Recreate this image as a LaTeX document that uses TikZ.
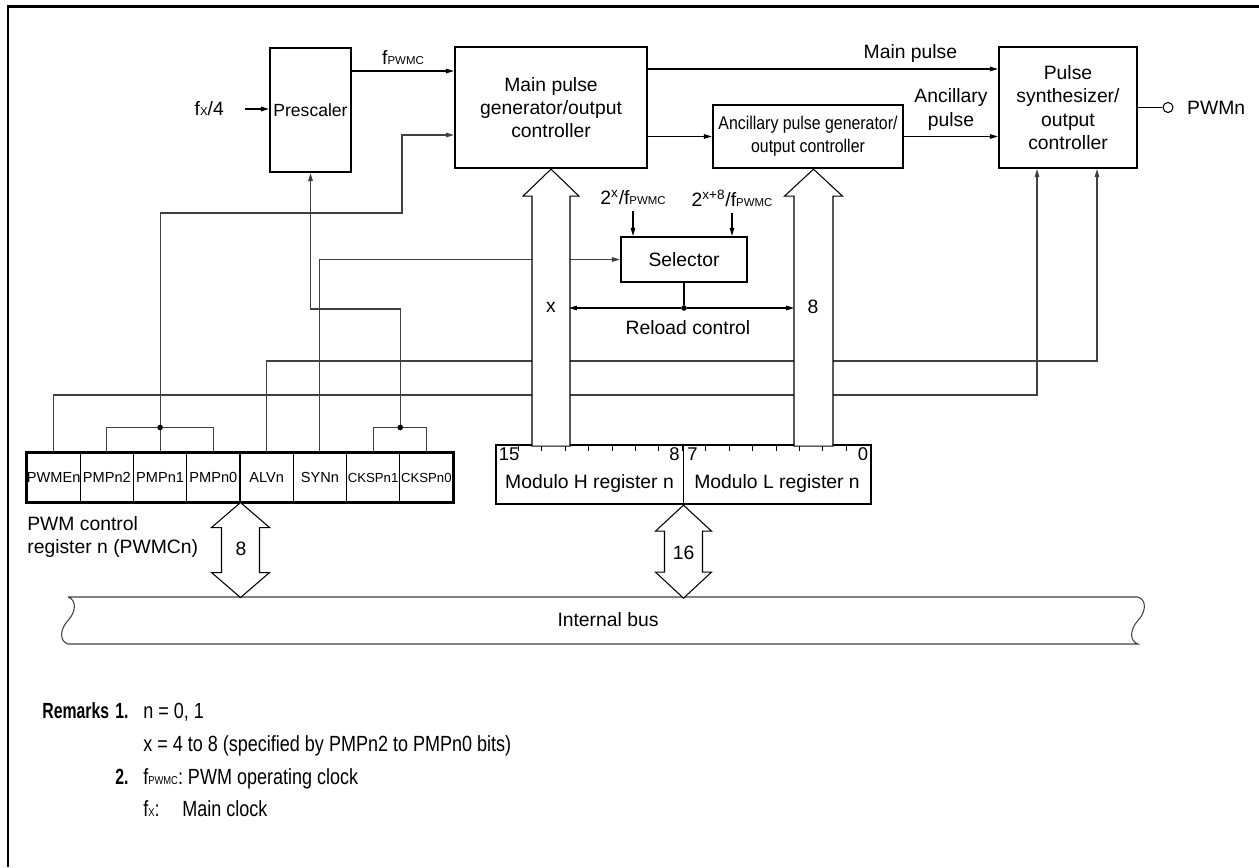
\documentclass[tikz,border=0pt]{standalone}
\usepackage{fontspec}
\setmainfont{Liberation Sans}
\newfontfamily\condfont[FakeStretch=0.86]{Liberation Sans}
\newfontfamily\remfont[FakeStretch=0.82]{Liberation Sans}
\newfontfamily\rembfont[FakeStretch=0.72]{Liberation Sans}
\usetikzlibrary{arrows.meta, positioning}
\newcommand{\fsub}[1]{f{\fontsize{6.5}{8}\selectfont #1}}

\begin{document}
\begin{tikzpicture}[
    x=0.02cm, y=-0.02cm,
    every node/.style={font=\fontsize{11}{13.3}\selectfont, align=center},
    blk/.style={draw, line width=1.3pt, inner sep=1pt},
    sig/.style={line width=0.6pt, -{Triangle[length=4.5pt, width=2.6pt]}},
    ctl/.style={line width=0.6pt, black!75},
    ctlarr/.style={ctl, -{Triangle[length=4.5pt, width=2.6pt]}},
    widebus/.style={draw, fill=white, line width=0.6pt},
    cell/.style={draw, line width=0.6pt, minimum width=1.065cm, minimum height=0.98cm, inner sep=0pt},
    dot/.style={circle, fill, inner sep=0pt, minimum size=3.2pt},
    remark/.style={anchor=base west, inner sep=0pt, align=left, font=\remfont\fontsize{12.5}{14}\selectfont},
    remarkb/.style={remark, font=\rembfont\bfseries\fontsize{12.5}{14}\selectfont}
]
\useasboundingbox (0,0) rectangle (1259,867);
\draw[line width=1.7pt] (8,867) -- (8,6) -- (1259,6);

% function blocks
\node[blk, minimum width=1.62cm, minimum height=2.48cm, font=\fontsize{10}{12}\selectfont] (prescaler) at (310.5,110) {Prescaler};
\node[blk, minimum width=3.84cm, minimum height=2.42cm] (mainpg) at (551,107.5) {Main pulse\\generator/output\\controller};
\node[blk, minimum width=3.8cm, minimum height=1.26cm, font=\condfont\fontsize{10.5}{13.3}\selectfont] (ancpg) at (808,136.5) {Ancillary pulse generator/\\output controller};
\node[blk, minimum width=2.76cm, minimum height=2.42cm] (synth) at (1068,107.5) {Pulse\\synthesizer/\\output\\controller};
\node[blk, minimum width=2.52cm, minimum height=0.9cm] (selector) at (684,259.5) {Selector};
\node[circle, draw, line width=0.6pt, inner sep=0pt, minimum size=0.2cm] (pwmpin) at (1168,107.5) {};
\node[right=0.15cm of pwmpin] (pwmlbl) {PWMn};

% registers
\node[draw, line width=1.3pt, minimum width=7.5cm, minimum height=1.18cm] (modreg) at (683.5,474.5) {};
\foreach \i in {1,...,15}
  \draw[line width=0.6pt] ([xshift=\i*0.46875cm]modreg.north west) -- ++(0,7);
\draw[line width=0.6pt] (modreg.north) -- (modreg.south);
\node[anchor=north west, inner sep=2pt, font=\fontsize{10.5}{12}\selectfont] (b15) at (modreg.north west) {15};
\node[anchor=north east, inner sep=2pt, font=\fontsize{10.5}{12}\selectfont] (b8) at (modreg.north) {8};
\node[anchor=north west, inner sep=2pt, font=\fontsize{10.5}{12}\selectfont] (b7) at (modreg.north) {7};
\node[anchor=north east, inner sep=2pt, font=\fontsize{10.5}{12}\selectfont] (b0) at (modreg.north east) {0};
\node (modh) at (589.5,483) {Modulo H register n};
\node (modl) at (777,483) {Modulo L register n};

\foreach \lbl/\fs [count=\i] in {PWMEn/8.3, PMPn2/8.3, PMPn1/8.3, PMPn0/8.3, ALVn/8.3, SYNn/8.3, CKSPn1/7.5, CKSPn0/7.5}
  \node[cell, font=\fontsize{\fs}{9}\selectfont] (c\i) at ({27+(\i-0.5)*53.25},477.5) {\lbl};
\draw[line width=1.3pt] (c1.north west) rectangle (c8.south east);
\node[anchor=north west, align=left, inner sep=0pt] (ctllbl) at (27,516) {PWM control\\register n (PWMCn)};

% internal bus
\draw[ctl] (68,597) -- (1138,597) .. controls (1147,600) and (1146,612) .. (1138,620.5)
  .. controls (1130,629) and (1129,641) .. (1138,644) -- (68,644)
  .. controls (59,641) and (60,629) .. (68,620.5) .. controls (76,612) and (77,600) .. (68,597);
\node (buslbl) at (608,620) {Internal bus};

% clock and pulse paths
\coordinate (fxin) at (245,109);
\node[left=0.3cm of fxin] (fxlbl) {\fsub{X}/4};
\draw[sig] (fxin) -- (prescaler.west |- fxin);
\draw[sig] (prescaler.east |- 0,71) -- node[above] {\fsub{PWMC}} (mainpg.west |- 0,71);
\draw[sig] (mainpg.east |- 0,69) -- node[above, pos=0.75] {Main pulse} (synth.west |- 0,69);
\draw[sig] (mainpg.east |- ancpg.west) -- (ancpg.west);
\draw[sig] (ancpg.east) -- node[above] {Ancillary\\pulse} (synth.west |- ancpg.east);
\draw[line width=0.6pt] (synth.east |- pwmpin) -- (pwmpin);

% control bits
\coordinate (pmj) at ([yshift=0.5cm]c3.north);
\coordinate (ckj) at ([yshift=0.5cm]c7.north east);
\coordinate (alt) at (1097,361);
\coordinate (pet) at (1037,395);
\draw[ctl] (c2.north) |- (pmj) -| (c4.north);
\draw[ctl] (c3.north) -- (pmj);
\draw[ctlarr] (pmj) |- (402,213) |- (mainpg.west |- 0,135);
\draw[ctl] (c7.north) |- (ckj) -| (c8.north);
\draw[ctlarr] (ckj) |- (310,309) -| (prescaler.south);
\draw[ctlarr] (c1.north) |- (pet) -- (synth.south -| pet);
\draw[ctlarr] (c5.north) |- (alt) -- (synth.south -| alt);
\draw[ctlarr] (c6.north) |- (selector.west);
\node[dot] at (pmj) {};
\node[dot] at (ckj) {};

% selector
\node (s4) at (633,198) {2\textsuperscript{x}/\fsub{PWMC}};
\node (s12) at (732,198) {2\textsuperscript{x+8}/\fsub{PWMC}};
\draw[sig] (s4.south) -- (s4.south |- selector.north);
\draw[sig] (s12.south) -- (s12.south |- selector.north);

% wide data paths
\draw[widebus] (mainpg.south) -- ++(28,27) -- ++(-9,0) -- ++(0,250) -- ++(-38,0) -- ++(0,-250) -- ++(-9,0) -- cycle;
\draw[widebus] (ancpg.south -| 813.5,0) -- ++(29,27) -- ++(-9.5,0) -- ++(0,250) -- ++(-39,0) -- ++(0,-250) -- ++(-9.5,0) -- cycle;
\draw[widebus] (c4.south east) -- ++(29,25) -- ++(-10,0) -- ++(0,45) -- ++(10,0) -- ++(-29,25) -- ++(-29,-25) -- ++(10,0) -- ++(0,-45) -- ++(-10,0) -- cycle;
\draw[widebus] (modreg.south) -- ++(28,26) -- ++(-9,0) -- ++(0,41) -- ++(9,0) -- ++(-28,26) -- ++(-28,-26) -- ++(9,0) -- ++(0,-41) -- ++(-9,0) -- cycle;
\node (xlbl) at (551,307) {x};
\node (w8lbl) at (813,307) {8};
\node (c8lbl) at (241,549) {8};
\node (m16lbl) at (683.5,553) {16};

% reload control
\node[dot] (rjoin) at (selector.south |- 0,308) {};
\coordinate (rlx) at (569,308);
\coordinate (rl8) at (794,308);
\draw[line width=0.6pt] (selector.south) -- (rjoin);
\draw[sig] (rjoin) -- (rlx);
\draw[sig] (rjoin) -- (rl8);
\node (rlbl) at (688,328) {Reload control};

% remarks
\node[remarkb] (rmk) at (42,718) {Remarks};
\node[remarkb] (rmk1) at (115,718) {1.};
\node[remark] (rmn) at (143,718) {n = 0, 1};
\node[remark] (rmx) at (143,751) {x = 4 to 8 (specified by PMPn2 to PMPn0 bits)};
\node[remarkb] (rmk2) at (115,784) {2.};
\node[remark] (rmf) at (143,784) {\fsub{PWMC}: PWM operating clock};
\node[remark] (rmfx) at (143,816) {\fsub{X}:};
\node[remark] (rmmc) at (182,816) {Main clock};
\end{tikzpicture}
\end{document}
